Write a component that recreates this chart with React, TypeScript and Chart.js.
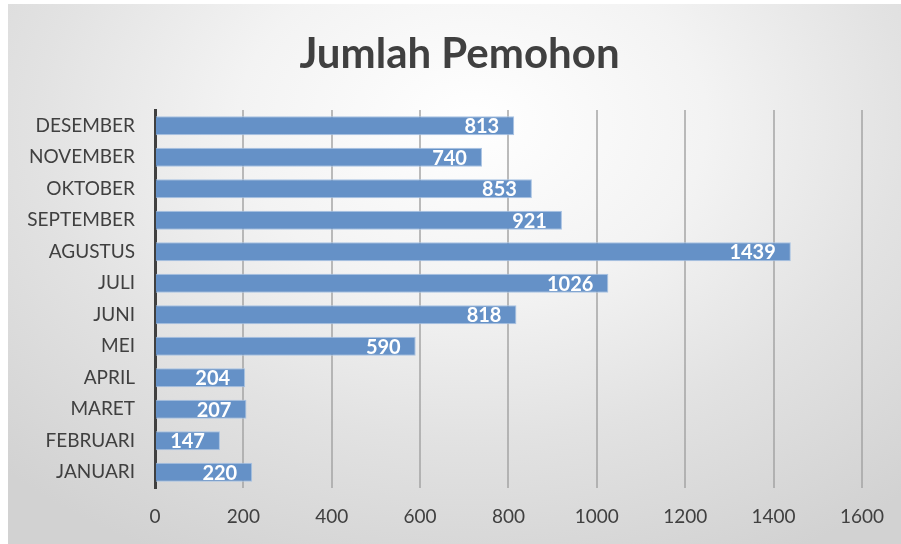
import React, { useEffect, useRef } from "react";
import { Chart, registerables } from "chart.js";

Chart.register(...registerables);

const chartTitle = "Jumlah Pemohon";
const months = [
  "JANUARI",
  "FEBRUARI",
  "MARET",
  "APRIL",
  "MEI",
  "JUNI",
  "JULI",
  "AGUSTUS",
  "SEPTEMBER",
  "OKTOBER",
  "NOVEMBER",
  "DESEMBER",
];
const applicants = [220, 147, 207, 204, 590, 818, 1026, 1439, 921, 853, 740, 813];
const xMin = 0;
const xMax = 1600;
const xStep = 200;

export default function App() {
  const ref = useRef<HTMLCanvasElement>(null);

  useEffect(() => {
    document.body.style.margin = "0";
    const canvas = ref.current;
    if (!canvas) return;

    const valueLabels = {
      id: "valueLabels",
      afterDatasetsDraw(chart: any) {
        const ctx = chart.ctx;
        const meta = chart.getDatasetMeta(0);
        ctx.save();
        ctx.fillStyle = "#ffffff";
        ctx.font = "bold 20px Lato";
        ctx.textAlign = "right";
        ctx.textBaseline = "middle";
        meta.data.forEach((bar: any, i: number) => {
          ctx.fillText(String(applicants[i]), bar.x - 15, bar.y + 1);
        });
        ctx.restore();
      },
    };

    const customTitle = {
      id: "customTitle",
      afterDraw(chart: any) {
        const ctx = chart.ctx;
        ctx.save();
        ctx.fillStyle = "#404040";
        ctx.font = "bold 42px Lato";
        ctx.textAlign = "center";
        ctx.textBaseline = "middle";
        ctx.fillText(chartTitle, chart.width / 2 + 5, 50);
        ctx.restore();
      },
    };

    const chart = new Chart(canvas, {
      type: "bar",
      data: {
        labels: months,
        datasets: [
          {
            data: applicants,
            backgroundColor: "#6591c7",
            borderColor: "#a9c3e3",
            borderWidth: 1,
            barPercentage: 0.6,
            categoryPercentage: 1,
          },
        ],
      },
      options: {
        indexAxis: "y",
        responsive: false,
        animation: false,
        layout: { padding: { top: 106, right: 39, left: 0, bottom: 0 } },
        plugins: {
          legend: { display: false },
          title: { display: false },
          tooltip: { enabled: false },
        },
        scales: {
          x: {
            min: xMin,
            max: xMax,
            ticks: {
              stepSize: xStep,
              color: "#404040",
              font: { family: "Lato", size: 19 },
              padding: 17,
              callback: (v: any) => String(v),
            },
            grid: {
              color: (c: any) => (c.tick && c.tick.value === 0 ? "rgba(0,0,0,0)" : "rgba(160,160,160,0.7)"),
              lineWidth: 2,
              drawTicks: false,
            },
            border: { display: false },
            afterFit(scale: any) {
              scale.height = 56;
            },
          },
          y: {
            reverse: true,
            ticks: {
              color: "#404040",
              font: { family: "Lato", size: 19 },
              padding: 20,
            },
            grid: { display: false, drawTicks: false },
            border: { display: true, color: "#404040", width: 3 },
            afterFit(scale: any) {
              scale.width = 147;
            },
          },
        },
      },
      plugins: [valueLabels, customTitle],
    });

    return () => chart.destroy();
  }, []);

  return (
    <div
      style={{
        position: "absolute",
        left: 8,
        top: 4,
        width: 893,
        height: 540,
        background:
          "radial-gradient(ellipse 75% 90% at 52% 22%, #ffffff 0%, #f3f3f3 35%, #e2e2e2 65%, #d2d2d2 100%)",
      }}
    >
      <canvas ref={ref} width={893} height={540} style={{ display: "block" }} />
    </div>
  );
}
